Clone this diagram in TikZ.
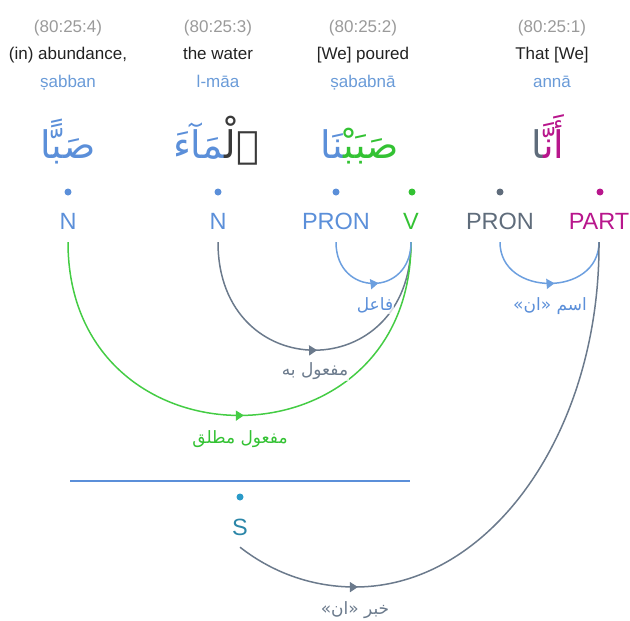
\documentclass[tikz,border=0pt]{standalone}
\usepackage{fontspec}
\setmainfont{Liberation Sans}
\newfontfamily\arabicfont[Script=Arabic]{DejaVu Sans}
\TeXXeTstate=1
\usetikzlibrary{arrows.meta,decorations.markings}
\definecolor{cRef}{HTML}{9A9A9A}
\definecolor{cTr}{HTML}{222222}
\definecolor{cTl}{HTML}{6A9BD8}
\definecolor{cBlue}{HTML}{5B8FD9}
\definecolor{cGreen}{HTML}{33C233}
\definecolor{cSlate}{HTML}{5F6C7B}
\definecolor{cPart}{HTML}{B8168C}
\definecolor{cDark}{HTML}{3A3A3A}
\definecolor{cTeal}{HTML}{2B86A8}
\definecolor{cTealDot}{HTML}{2A9AC8}
\definecolor{aBlue}{HTML}{6C9FDF}
\definecolor{aGray}{HTML}{6B7A8C}
\definecolor{aGreen}{HTML}{44CC44}
\newcommand{\myzwj}{^^^^200d}
\tikzset{
  refno/.style={font=\fontsize{17}{20}\selectfont, text=cRef, inner sep=0pt, anchor=base},
  transl/.style={font=\fontsize{17}{20}\selectfont, text=cTr, inner sep=0pt, anchor=base},
  translit/.style={font=\fontsize{17}{20}\selectfont, text=cTl, inner sep=0pt, anchor=base},
  arword/.style={font=\arabicfont\fontsize{38}{44}\selectfont, inner sep=0pt, anchor=base},
  posdot/.style={circle, fill=#1, inner sep=0pt, minimum size=7pt},
  poslbl/.style={font=\fontsize{23.5}{26}\selectfont, inner sep=0pt, text height=17pt, text depth=13pt, anchor=base},
  arclbl/.style={font=\arabicfont\fontsize{17}{20}\selectfont, fill=white, fill opacity=0.75, text opacity=1, inner sep=1pt},
  midarrow/.style={postaction={decorate}, decoration={markings, mark=at position #1 with {\arrow{Triangle[length=8pt,width=10pt]}}}},
  dep/.style={line width=1.5pt},
}
\begin{document}
\begin{tikzpicture}[x=1pt,y=1pt]
\useasboundingbox (0,0) rectangle (630,-621);
% header rows
\node[refno] (r4) at (68,-32) {(80:25:4)};
\node[refno] (r3) at (218,-32) {(80:25:3)};
\node[refno] (r2) at (363,-32) {(80:25:2)};
\node[refno] (r1) at (552,-32) {(80:25:1)};
\node[transl] (t4) at (68,-59) {(in) abundance,};
\node[transl] (t3) at (218,-59) {the water};
\node[transl] (t2) at (363,-59) {[We] poured};
\node[transl] (t1) at (552,-59) {That [We]};
\node[translit] (l4) at (68,-87) {ṣabban};
\node[translit] (l3) at (218,-87) {l-māa};
\node[translit] (l2) at (363,-87) {ṣababnā};
\node[translit] (l1) at (552,-87) {annā};
% arabic words (fragments in visual order, left to right)
\node[arword, text=cBlue] (w4) at (68,-158) {صَبًّا};
\node[arword] (w3) at (216,-158) {\textcolor{cBlue}{\myzwj مَآءَ}\textcolor{cDark}{ٱلْ\myzwj}};
\node[arword] (w2) at (360,-158) {\textcolor{cBlue}{\myzwj نَا}\textcolor{cGreen}{صَبَبْ\myzwj}};
\node[arword] (w1) at (548,-158) {\textcolor{cSlate}{\myzwj ا}\textcolor{cPart}{أَنَّ\myzwj}};
% dots
\node[posdot=cBlue] (d1) at (68,-192) {};
\node[posdot=cBlue] (d2) at (218,-192) {};
\node[posdot=cBlue] (d3) at (336,-192) {};
\node[posdot=cGreen] (d4) at (412,-192) {};
\node[posdot=cSlate] (d5) at (500,-192) {};
\node[posdot=cPart] (d6) at (600,-192) {};
% POS labels
\node[poslbl, text=cBlue] (nA) at (68,-229) {N};
\node[poslbl, text=cBlue] (nB) at (218,-229) {N};
\node[poslbl, text=cBlue] (pronA) at (336,-229) {PRON};
\node[poslbl, text=cGreen] (vA) at (411,-229) {V};
\node[poslbl, text=cSlate] (pronB) at (500,-229) {PRON};
\node[poslbl, text=cPart] (part) at (599,-229) {PART};
% S
\draw[cBlue, line width=1.2pt] (70,-481) -- (410,-481);
\node[posdot=cTealDot] (sdot) at (240,-497) {};
\node[poslbl, text=cTeal, text depth=12pt] (sLbl) at (240,-535) {S};
\coordinate (kbot) at (355,-587);
% arcs
\draw[dep, aGray, midarrow=0.508] (nB.south) .. controls +(0,-144) and +(0,-144) .. (vA.south);
\draw[dep, aGreen, midarrow=0.508] (nA.south) .. controls +(0,-231) and +(0,-231) .. (vA.south);
\draw[dep, aBlue, midarrow=0.54] (pronA.south) .. controls +(0,-55) and +(0,-55) .. (vA.south);
\draw[dep, aBlue, midarrow=0.535] (pronB.south) .. controls +(0,-55) and +(0,-55) .. (part.south);
\draw[dep, aGray, midarrow=0.215] (sLbl.south) .. controls (275,-574.5) and (315,-587) .. (kbot) .. controls (490,-587) and (600,-432.6) .. (part.south);
% arc labels
\node[arclbl, text=cBlue] (lf) at (375,-305) {\beginR فاعل\endR};
\node[arclbl, text=aGray] (lmb) at (315,-371) {\beginR مفعول به\endR};
\node[arclbl, text=cGreen] (lmm) at (240,-439) {\beginR مفعول مطلق\endR};
\node[arclbl, text=cBlue] (lism) at (550,-306) {\beginR اسم «ان»\endR};
\node[arclbl, text=aGray] (lkh) at (355,-610) {\beginR خبر «ان»\endR};
\end{tikzpicture}
\end{document}
